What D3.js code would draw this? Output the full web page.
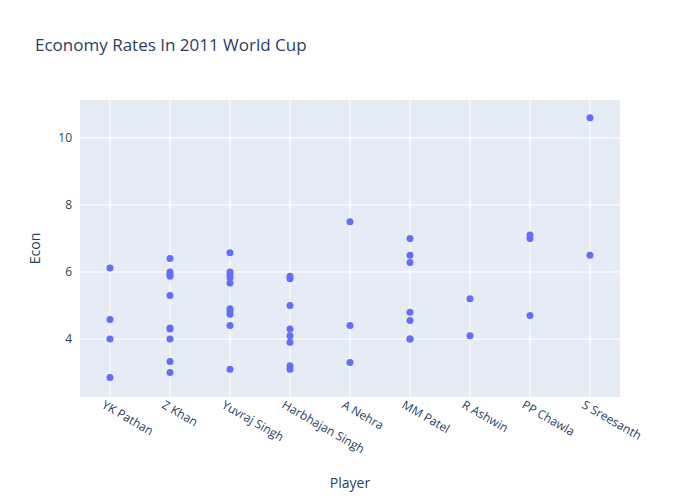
<!DOCTYPE html>
<html><head><meta charset="utf-8">
<script src="https://cdn.jsdelivr.net/npm/d3@7"></script>
<style>body{margin:0;background:#fff}</style>
</head><body>
<script>
const players = ["YK Pathan","Z Khan","Yuvraj Singh","Harbhajan Singh","A Nehra","MM Patel","R Ashwin","PP Chawla","S Sreesanth"];
const econ = [
  [6.12, 4.58, 4.0, 2.85],
  [6.4, 6.0, 5.93, 5.87, 5.3, 4.33, 4.3, 4.0, 3.33, 3.0],
  [6.57, 6.0, 5.92, 5.83, 5.67, 4.9, 4.82, 4.74, 4.4, 3.1],
  [5.87, 5.8, 5.0, 4.3, 4.1, 3.9, 3.2, 3.1],
  [7.5, 4.4, 3.3],
  [7.0, 6.5, 6.28, 4.8, 4.55, 4.0, 4.0],
  [5.2, 4.1],
  [7.1, 7.0, 4.7],
  [10.6, 6.5]
];
const yTicks = [4, 6, 8, 10];

const width = 700, height = 500;
const m = {left: 80, right: 80, top: 100, bottom: 103};
const svg = d3.select("body").append("svg").attr("width", width).attr("height", height)
    .style("font-family", "'Open Sans', sans-serif");

const x = d3.scalePoint().domain(players).range([m.left, width - m.right]).padding(0.5);
const y = d3.scaleLinear().domain([2.27, 11.13]).range([height - m.bottom, m.top]);

svg.append("rect").attr("x", m.left).attr("y", m.top)
    .attr("width", width - m.left - m.right).attr("height", height - m.top - m.bottom)
    .attr("fill", "#e5ecf6");

svg.append("g").selectAll("line").data(players).join("line")
    .attr("x1", d => x(d)).attr("x2", d => x(d))
    .attr("y1", m.top).attr("y2", height - m.bottom)
    .attr("stroke", "#fff").attr("stroke-width", 1);
svg.append("g").selectAll("line").data(yTicks).join("line")
    .attr("x1", m.left).attr("x2", width - m.right)
    .attr("y1", d => y(d)).attr("y2", d => y(d))
    .attr("stroke", "#fff").attr("stroke-width", 1);

svg.append("g").attr("transform", `translate(${m.left - 2},0)`)
    .call(d3.axisLeft(y).tickValues(yTicks).tickSize(0).tickPadding(6))
    .call(g => g.select(".domain").remove())
    .selectAll("text").attr("fill", "#2a3f5f").attr("font-size", 12).attr("font-family", "'Open Sans', sans-serif");

svg.append("g").attr("transform", `translate(0,${height - m.bottom + 6})`)
    .call(d3.axisBottom(x).tickSize(0).tickPadding(0))
    .call(g => g.select(".domain").remove())
    .selectAll("text")
    .attr("fill", "#2a3f5f").attr("font-size", 12).attr("font-family", "'Open Sans', sans-serif")
    .attr("text-anchor", "start").attr("dy", "0.7em").attr("x", -6).attr("y", 0)
    .attr("transform", "rotate(30)");

const pts = econ.flatMap((vals, i) => vals.map(v => ({p: players[i], v})));
svg.append("g").selectAll("circle").data(pts).join("circle")
    .attr("cx", d => x(d.p)).attr("cy", d => y(d.v)).attr("r", 3.5)
    .attr("fill", "#636efa");

svg.append("text").attr("x", 35).attr("y", 51).attr("fill", "#2a3f5f")
    .attr("font-size", 17).text("Economy Rates In 2011 World Cup");
svg.append("text").attr("x", (m.left + width - m.right) / 2).attr("y", 488)
    .attr("text-anchor", "middle").attr("fill", "#2a3f5f").attr("font-size", 14).text("Player");
svg.append("text").attr("transform", `translate(40,${(m.top + height - m.bottom) / 2}) rotate(-90)`)
    .attr("text-anchor", "middle").attr("fill", "#2a3f5f").attr("font-size", 14).text("Econ");
</script>
</body></html>
